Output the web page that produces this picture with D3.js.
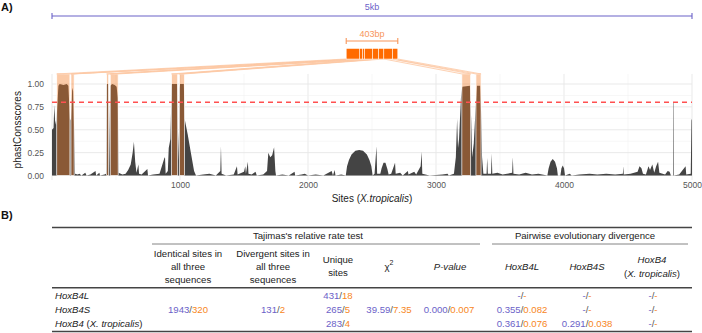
<!DOCTYPE html>
<html>
<head>
<meta charset="utf-8">
<script src="https://cdn.jsdelivr.net/npm/d3@7"></script>
<style>
    body { margin: 0; background: #fff; }
    svg { font-family: "Liberation Sans", Arial, sans-serif; }
</style>
</head>
<body>
<svg id="fig" width="702" height="333"></svg>
<script>
// phastCons scores: [site, score]
const consScores = [
    [0,0.50],[12,0.52],[18,0.77],[24,0.60],[32,0.55],[40,0.72],[50,0.98],[60,1.0],[90,0.99],[115,1.0],[128,0.98],[140,0.62],
    [148,0.60],[158,0.96],[165,0.92],[172,0.55],[180,0.02],[200,0.01],[215,0.02],[230,0.0],[260,0.03],[270,0.0],[300,0.01],
    [340,0.05],[345,0.0],[370,0.03],[375,0.0],[410,0.01],[422,0.02],[427,1.0],[440,1.0],[445,0.02],[455,0.98],[470,1.0],
    [490,0.99],[505,0.97],[514,0.85],[520,0.03],[550,0.01],[575,0.02],[595,0.06],[615,0.12],[630,0.25],[640,0.37],[650,0.15],
    [660,0.03],[675,0.12],[680,0.02],[700,0.01],[745,0.07],[750,0.0],[790,0.01],[840,0.02],[878,0.19],[883,0.20],[888,0.02],
    [905,0.05],[912,0.30],[925,0.40],[935,1.0],[978,1.0],[984,0.5],[990,0.16],[995,0.95],[1000,1.0],[1030,1.0],[1036,0.62],
    [1060,0.45],[1085,0.25],[1110,0.05],[1125,0.0],[1180,0.01],[1230,0.02],[1280,0.0],[1315,0.05],[1320,0.32],[1325,0.02],
    [1360,0.0],[1420,0.01],[1445,0.10],[1450,0.01],[1500,0.04],[1510,0.10],[1515,0.02],[1530,0.15],[1535,0.02],[1560,0.01],
    [1590,0.04],[1600,0.0],[1650,0.01],[1680,0.05],[1690,0.25],[1705,0.20],[1720,0.22],[1735,0.31],[1745,0.05],[1750,0.0],
    [1800,0.01],[1850,0.0],[1895,0.04],[1900,0.0],[1950,0.01],[1975,0.02],[2000,0.0],[2060,0.01],[2120,0.0],[2185,0.05],
    [2195,0.0],[2208,0.06],[2215,0.0],[2260,0.01],[2295,0.0],[2305,0.10],[2320,0.17],[2340,0.23],[2370,0.27],[2400,0.28],
    [2430,0.27],[2460,0.23],[2480,0.17],[2495,0.10],[2505,0.0],[2520,0.02],[2535,0.32],[2540,0.02],[2565,0.02],[2575,0.08],
    [2590,0.14],[2605,0.14],[2620,0.07],[2630,0.01],[2650,0.02],[2680,0.14],[2685,0.02],[2720,0.03],[2740,0.0],[2780,0.05],
    [2785,0.01],[2830,0.04],[2845,0.01],[2880,0.10],[2888,0.26],[2893,0.02],[2950,0.0],[3050,0.01],[3090,0.02],[3100,0.0],
    [3140,0.02],[3155,0.20],[3165,0.62],[3172,0.30],[3180,0.40],[3195,0.85],[3205,0.97],[3265,0.98],[3275,0.6],[3282,0.2],
    [3295,0.35],[3310,0.75],[3320,0.98],[3345,0.98],[3352,0.7],[3360,0.2],[3370,0.02],[3395,0.02],[3400,0.19],[3405,0.02],
    [3430,0.02],[3435,0.24],[3440,0.02],[3480,0.03],[3520,0.01],[3595,0.03],[3600,0.20],[3605,0.02],[3650,0.01],[3700,0.03],
    [3750,0.01],[3800,0.02],[3870,0.0],[3880,0.08],[3895,0.15],[3912,0.18],[3930,0.15],[3945,0.08],[3952,0.0],[3972,0.0],
    [3980,0.08],[3990,0.11],[4000,0.08],[4008,0.0],[4045,0.02],[4060,0.0],[4120,0.01],[4200,0.02],[4260,0.01],[4330,0.02],
    [4400,0.01],[4460,0.02],[4463,0.10],[4467,0.01],[4520,0.02],[4575,0.04],[4590,0.10],[4605,0.08],[4617,0.02],[4640,0.01],
    [4660,0.10],[4672,0.06],[4690,0.12],[4705,0.03],[4720,0.10],[4735,0.15],[4745,0.03],[4790,0.01],[4810,0.05],[4825,0.04],
    [4835,0.0],[4852,0.0],[4853,0.8],[4856,0.8],[4857,0.0],[4900,0.01],[4950,0.10],[4955,0.01],[4990,0.02],[4996,0.6],[5000,0.62]
];

// conserved elements (sum = 403bp)
const elements = [[37,140],[148,173],[427,443],[455,517],[934,982],[995,1035],[3202,3271],[3312,3352]];
const threshold = 0.8;
const xTicks = [1000, 2000, 3000, 4000, 5000];
const yTicks = [0, 0.25, 0.5, 0.75, 1];

// Tajima's relative rate test table
const rowNames = ["HoxB4L", "HoxB4S", "HoxB4 (X. tropicalis)"];
const identicalSites = ["1943", "320"];
const divergentSites = ["131", "2"];
const uniqueSites = [["431", "18"], ["265", "5"], ["283", "4"]];
const chiSquare = ["39.59", "7.35"];
const pValue = ["0.000", "0.007"];
const divergence = [
    [["-", "-"], ["-", "-"], ["-", "-"]],
    [["0.355", "0.082"], ["-", "-"], ["-", "-"]],
    [["0.361", "0.076"], ["0.291", "0.038"], ["-", "-"]]
];

const purple = "#6b62c8", orange = "#f7861c";
const svg = d3.select("#fig");

// ---------- Panel A ----------
let x = d3.scaleLinear().domain([0, 5000]).range([52, 692]);
let y = d3.scaleLinear().domain([0, 1]).range([175.5, 84]);

svg.append("text").text("A)")
    .attr("x", 1).attr("y", 11)
    .attr("font-size", 11).attr("font-weight", "bold").attr("fill", "#111");

// gridlines
let grid = svg.append("g");
grid.selectAll(".vminor").data(d3.range(500, 5000, 1000)).enter().append("line")
    .attr("x1", d => x(d)).attr("x2", d => x(d))
    .attr("y1", y(1.11)).attr("y2", 180)
    .attr("stroke", "#f2f2f2").attr("stroke-width", 0.6);
grid.selectAll(".vmajor").data(d3.range(0, 5001, 1000)).enter().append("line")
    .attr("x1", d => x(d)).attr("x2", d => x(d))
    .attr("y1", y(1.11)).attr("y2", 180)
    .attr("stroke", "#e6e6e6").attr("stroke-width", 0.9);
grid.selectAll(".hminor").data([0.125, 0.375, 0.625, 0.875]).enter().append("line")
    .attr("x1", x(0)).attr("x2", x(5000))
    .attr("y1", d => y(d)).attr("y2", d => y(d))
    .attr("stroke", "#f2f2f2").attr("stroke-width", 0.6);
grid.selectAll(".hmajor").data(yTicks).enter().append("line")
    .attr("x1", x(0)).attr("x2", x(5000))
    .attr("y1", d => y(d)).attr("y2", d => y(d))
    .attr("stroke", "#e6e6e6").attr("stroke-width", 0.9);

// score area
svg.append("path")
    .datum(consScores)
    .attr("fill", "#444")
    .attr("d", d3.area()
        .x(d => x(d[0]))
        .y0(y(0))
        .y1(d => y(d[1])));

// highlighted elements
svg.selectAll(".elem").data(elements).enter().append("rect")
    .attr("x", d => x(d[0]))
    .attr("width", d => x(d[1]) - x(d[0]))
    .attr("y", y(1.11))
    .attr("height", y(0) - y(1.11))
    .attr("fill", "#f57a24").attr("fill-opacity", 0.4)
    .attr("stroke", "#fff").attr("stroke-width", 0.7);

// threshold
svg.append("line")
    .attr("x1", x(0)).attr("x2", x(5000))
    .attr("y1", y(threshold)).attr("y2", y(threshold))
    .attr("stroke", "#ff5050").attr("stroke-width", 1.5)
    .attr("stroke-dasharray", "5,4");

// axes
let xAxis = svg.append("g")
    .attr("transform", "translate(0," + (y(0) + 3) + ")")
    .call(d3.axisBottom(x).tickValues(xTicks).tickSize(0).tickFormat(d3.format("d")));
let yAxis = svg.append("g")
    .attr("transform", "translate(" + (x(0) - 5) + ",0)")
    .call(d3.axisLeft(y).tickValues(yTicks).tickSize(0).tickFormat(d3.format(".2f")));
[xAxis, yAxis].forEach(a => {
    a.select(".domain").remove();
    a.selectAll("text").attr("font-size", 8.5).attr("fill", "#555").attr("font-family", "Liberation Sans, Arial, sans-serif");
});

svg.append("text")
    .attr("x", x(2500)).attr("y", 202)
    .attr("text-anchor", "middle").attr("font-size", 10).attr("fill", "#222")
    .call(t => {
        t.append("tspan").text("Sites (");
        t.append("tspan").text("X.tropicalis").attr("font-style", "italic");
        t.append("tspan").text(")");
    });
svg.append("text").text("phastConsscores")
    .attr("transform", "translate(21," + y(0.5) + ") rotate(-90)")
    .attr("text-anchor", "middle").attr("font-size", 10).attr("fill", "#222");

// 5kb scale bar
let kb = svg.append("g").attr("stroke", purple).attr("stroke-width", 1.1);
kb.append("line").attr("x1", x(0)).attr("x2", x(5000)).attr("y1", 16).attr("y2", 16);
kb.append("line").attr("x1", x(0)).attr("x2", x(0)).attr("y1", 13).attr("y2", 19);
kb.append("line").attr("x1", x(5000)).attr("x2", x(5000)).attr("y1", 13).attr("y2", 19);
svg.append("text").text("5kb")
    .attr("x", x(2500)).attr("y", 9.5)
    .attr("text-anchor", "middle").attr("font-size", 9).attr("fill", purple);

// stacked 403bp bar at the same scale
let total = d3.sum(elements, d => d[1] - d[0]);
let barW = x(total) - x(0);
let barX0 = x(2500) - barW / 2;
let cum = 0;
let segs = elements.map(d => {
    let s = {x0: barX0 + x(cum) - x(0), x1: barX0 + x(cum + d[1] - d[0]) - x(0), r0: x(d[0]), r1: x(d[1])};
    cum += d[1] - d[0];
    return s;
});
let barTop = 48.5, barBot = 59;

svg.selectAll(".link").data(segs).enter().append("polygon")
    .attr("points", d => [[d.x0, barBot], [d.x1, barBot], [d.r1, y(1.11)], [d.r0, y(1.11)]].join(" "))
    .attr("fill", "#fde6d5").attr("fill-opacity", 0.35)
    .attr("stroke", "#fcc8a3").attr("stroke-width", 0.8);

svg.selectAll(".seg").data(segs).enter().append("rect")
    .attr("x", d => d.x0).attr("width", d => d.x1 - d.x0)
    .attr("y", barTop).attr("height", barBot - barTop)
    .attr("fill", "#ff6a00").attr("stroke", "#fff").attr("stroke-width", 0.5);

let bp = svg.append("g").attr("stroke", "#f7965a").attr("stroke-width", 1.1);
bp.append("line").attr("x1", barX0).attr("x2", barX0 + barW).attr("y1", 41).attr("y2", 41);
bp.append("line").attr("x1", barX0).attr("x2", barX0).attr("y1", 38).attr("y2", 44);
bp.append("line").attr("x1", barX0 + barW).attr("x2", barX0 + barW).attr("y1", 38).attr("y2", 44);
svg.append("text").text(total + "bp")
    .attr("x", x(2500)).attr("y", 36.5)
    .attr("text-anchor", "middle").attr("font-size", 9).attr("fill", "#f7965a");

// ---------- Panel B ----------
svg.append("text").text("B)")
    .attr("x", 1).attr("y", 219)
    .attr("font-size", 11).attr("font-weight", "bold").attr("fill", "#111");

let tb = svg.append("g").attr("font-size", 9.6).attr("fill", "#222");

function rule(y0, x0, x1, w, c) {
    tb.append("line").attr("x1", x0).attr("x2", x1).attr("y1", y0).attr("y2", y0)
        .attr("stroke", c).attr("stroke-width", w);
}
function label(cx, cy, parts, anchor) {
    let t = tb.append("text").attr("x", cx).attr("y", cy).attr("dy", "0.35em")
        .attr("text-anchor", anchor || "middle");
    parts.forEach(p => {
        let s = t.append("tspan").text(p[0]);
        if (p[1]) s.attr("font-style", "italic");
        if (p[2]) s.attr("fill", p[2]);
    });
    return t;
}
function pair(cx, cy, ab) {
    return label(cx, cy, [[ab[0], false, purple], ["/", false, "#555"], [ab[1], false, orange]]);
}

rule(227.5, 52, 692, 1.4, "#444");
rule(244, 152, 480, 0.9, "#777");
rule(244, 492, 688, 0.9, "#777");
rule(287.7, 52, 692, 1.4, "#444");
rule(331.5, 52, 692, 1.4, "#444");

label(308, 235.7, [["Tajimas's relative rate test"]]);
label(585, 235.7, [["Pairwise evolutionary divergence"]]);

["Identical sites in", "all three", "sequences"].forEach((s, i) => label(188, 253.3 + i * 13, [[s]]));
["Divergent sites in", "all three", "sequences"].forEach((s, i) => label(273, 253.3 + i * 13, [[s]]));
["Unique", "sites"].forEach((s, i) => label(338, 260 + i * 13, [[s]]));
let chi = label(389, 267, [["\u03c7"]]);
chi.append("tspan").text("2").attr("font-size", 7).attr("dy", "-0.7em");
label(450, 267, [["P-value", true]]);
label(522, 267, [["HoxB4L", true]]);
label(587, 267, [["HoxB4S", true]]);
label(652, 260, [["HoxB4", true]]);
label(652, 273.5, [["("], ["X. tropicalis", true], [")"]]);

let rowY = [295.8, 309.5, 323.2];
label(55, rowY[0], [[rowNames[0], true]], "start");
label(55, rowY[1], [[rowNames[1], true]], "start");
label(55, rowY[2], [["HoxB4", true], [" ("], ["X. tropicalis", true], [")"]], "start");

pair(188, rowY[1], identicalSites);
pair(273, rowY[1], divergentSites);
uniqueSites.forEach((d, i) => pair(338, rowY[i], d));
pair(389, rowY[1], chiSquare);
pair(449, rowY[1], pValue);
let divX = [522, 587, 653];
divergence.forEach((row, i) => row.forEach((d, j) => pair(divX[j], rowY[i], d)));
</script>
</body>
</html>
